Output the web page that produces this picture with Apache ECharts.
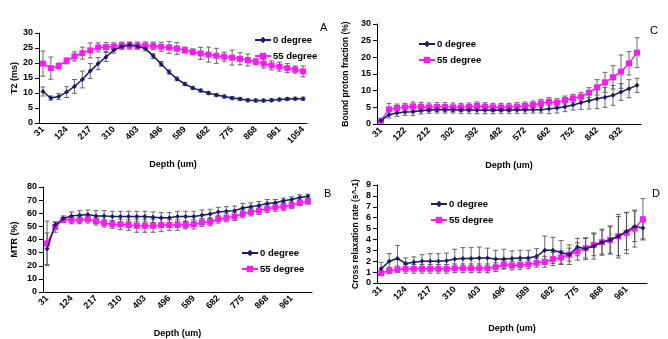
<!DOCTYPE html>
<html>
<head>
<meta charset="utf-8">
<script src="https://cdn.jsdelivr.net/npm/echarts@6/dist/echarts.min.js"></script>
<style>
  html, body { margin: 0; padding: 0; background: #fff; }
  #chart { width: 668px; height: 339px; }
</style>
</head>
<body>
<div id="chart"></div>
<script>
// depth categories (um)
var depthA = [31, 62, 93, 124, 155, 186, 217, 248, 279, 310, 341, 372, 403, 434, 465, 496, 527,
  558, 589, 620, 651, 682, 713, 744, 775, 806, 837, 868, 899, 930, 961, 992, 1023, 1054];
var depthB = [31, 62, 93, 124, 155, 186, 217, 248, 279, 310, 341, 372, 403, 434, 465, 496, 527,
  558, 589, 620, 651, 682, 713, 744, 775, 806, 837, 868, 899, 930, 961, 992, 1023];
var depthC = [31, 61, 91, 122, 152, 182, 212, 242, 272, 302, 332, 362, 392, 422, 452, 482, 512,
  542, 572, 602, 632, 662, 692, 722, 752, 782, 812, 842, 872, 902, 932, 962, 992];
var depthD = depthB;

// A: T2 (ms)
var t2Deg0 = [10.5, 8.3, 8.8, 10.3, 12.2, 14.5, 17.3, 19.8, 22, 24.3, 25.5, 26, 25.6, 24.8, 22.3, 19.7, 17,
  14.7, 13, 11.7, 10.8, 10, 9.3, 8.8, 8.3, 8, 7.6, 7.5, 7.5, 7.6, 7.8, 8, 8.1, 8.1];
var t2Deg55 = [19.8, 18.3, 19, 20.7, 22.2, 23.3, 24.2, 25.2, 25.3, 25.5, 25.8, 25.8, 25.8, 25.8, 25.7, 25.4, 25.2,
  24.8, 24.3, 23.7, 23.2, 22.8, 22.4, 22.1, 21.8, 21.4, 21, 20.4, 19.8, 19.2, 18.8, 18.3, 17.8, 17.2];
var t2Err0 = [1.5, 0.7, 1, 1.8, 2.3, 2.8, 2.5, 2, 1.5, 1, 0.8, 0.8, 0.8, 0.8, 0.8, 0.8, 0.7,
  0.6, 0.5, 0.5, 0.5, 0.5, 0.5, 0.5, 0.5, 0.5, 0.5, 0.5, 0.5, 0.5, 0.5, 0.5, 0.5, 0.5];
var t2Err55 = [4.2, 3.7, 1, 1, 1.5, 2, 2.5, 1.5, 1.5, 1.2, 1.2, 1.2, 1.2, 1.2, 1.3, 1.5, 2,
  2, 1, 1, 2, 2.5, 2.5, 1.5, 2.5, 2, 2, 1, 1.5, 1.5, 1.5, 1.5, 1.2, 1.8];

// B: MTR (%)
var mtrDeg0 = [33, 51, 56, 58, 58.5, 59, 58, 58, 57.5, 57.5, 57.5, 57.5, 57.5, 57, 56.5, 56.5, 57.5,
  57.5, 57.5, 58.5, 59.5, 61, 61.5, 62, 64, 65, 66, 67.5, 68, 69.5, 70.5, 72, 73];
var mtrDeg55 = [37, 49.5, 55, 55, 55, 55.5, 54, 52.5, 51.5, 51.5, 51, 50.5, 50.5, 50.5, 51, 51, 51,
  51, 51.5, 53, 53.5, 55.5, 56.5, 57.5, 59.5, 61, 62, 63.5, 64.5, 65, 66, 68, 69];
var mtrErr0 = [12, 2, 2, 3, 3.5, 3.5, 4, 4, 4, 4, 4, 4, 4, 4, 4, 4, 4,
  4, 4, 4, 3.5, 3.5, 3.5, 3.5, 3.5, 3, 3, 3, 2.5, 2, 2, 2, 1.5];
var mtrErr55 = [17, 4, 2, 3, 3, 3, 3, 3, 3, 4, 4, 5, 5, 5, 5, 4, 4,
  3, 3.5, 3, 3, 3, 3, 3, 3, 3, 3, 3, 3, 3, 2.5, 2, 2];

// C: bound proton fraction (%)
var bpfDeg0 = [1, 2.8, 3.3, 3.6, 3.7, 4, 4.2, 4.3, 4.3, 4.3, 4.2, 4.2, 4.1, 4.1, 4.1, 4.2, 4.2,
  4.2, 4.2, 4.3, 4.3, 4.6, 4.8, 5.2, 5.7, 6.4, 7, 7.6, 8, 8.6, 9.6, 10.6, 11.6];
var bpfDeg55 = [1, 4.4, 4.8, 5, 5.3, 5.2, 5, 5.1, 5.1, 5, 5, 5.1, 5.4, 5.2, 5, 5, 5,
  5.2, 5.4, 5.7, 6.2, 6.7, 6.4, 7.2, 7.7, 8.2, 9.4, 11, 12.5, 14, 15.7, 18.2, 21.4];
var bpfErr0 = [0.3, 1, 1, 1, 1.2, 1, 1, 1, 1, 1, 1, 1, 1, 1, 1, 1, 1,
  1, 1, 1, 1, 1.5, 1.5, 1.5, 1.5, 2, 2.5, 3, 3, 3, 2.5, 2.7, 2.1];
var bpfErr55 = [0.3, 1.8, 1.2, 1.2, 1.3, 1.3, 1.3, 1.3, 1.3, 1.3, 1.2, 1.2, 1.2, 1.2, 1.2, 1.2, 1.2,
  1.2, 1.2, 1.2, 1.2, 1.2, 1.2, 1.2, 1.2, 1.3, 1.5, 2.3, 3, 3.5, 5, 3.5, 4.5];

// D: cross relaxation rate (s^-1)
var crrDeg0 = [1.3, 2, 2.25, 1.8, 1.9, 2, 2, 2, 2.05, 2.2, 2.25, 2.25, 2.3, 2.3, 2.2, 2.2, 2.25,
  2.3, 2.3, 2.45, 3, 3, 2.8, 2.6, 3.3, 3.15, 3.4, 3.75, 3.95, 4.3, 4.75, 5.2, 5.05];
var crrDeg55 = [0.9, 1.15, 1.25, 1.3, 1.3, 1.3, 1.3, 1.3, 1.3, 1.35, 1.35, 1.35, 1.35, 1.35, 1.45, 1.7, 1.6,
  1.65, 1.7, 1.85, 1.95, 2.2, 2.35, 2.6, 2.9, 3.2, 3.5, 3.75, 3.95, 4.3, 4.6, 5, 5.85];
var crrErr0 = [0.6, 0.7, 1.2, 0.5, 0.5, 0.6, 0.7, 0.7, 0.7, 0.9, 1, 1, 1, 0.9, 0.8, 0.9, 0.7,
  0.7, 0.7, 0.7, 1.3, 1.2, 1.1, 0.9, 0.8, 1, 1.2, 1.2, 1.3, 2, 1.7, 1.4, 1];
var crrErr55 = [0.2, 0.3, 0.3, 0.4, 0.4, 0.4, 0.4, 0.4, 0.4, 0.4, 0.4, 0.4, 0.4, 0.4, 0.4, 0.4, 0.4,
  0.4, 0.4, 0.4, 0.5, 0.6, 0.6, 0.6, 0.8, 0.9, 1, 1.1, 1.2, 1.8, 1.9, 1.7, 1.9];

var NAVY = '#1b1b6b';
var PINK = '#ff19ff';
var FONT = 'Liberation Sans, Arial, sans-serif';

var chart = echarts.init(document.getElementById('chart'));

var panels = [
  { grid: { left: 39, top: 33, width: 268, height: 90 }, cats: depthA, d0: t2Deg0, d55: t2Deg55,
    e0: t2Err0, e55: t2Err55, max: 30, step: 5, yname: 'T2 (ms)', ygap: 20, xgap: 37,
    legend: { left: 249, top: 30 }, letter: 'A', lx: 320, ly: 22 },
  { grid: { left: 43, top: 187, width: 269, height: 105 }, cats: depthB, d0: mtrDeg0, d55: mtrDeg55,
    e0: mtrErr0, e55: mtrErr55, max: 80, step: 10, yname: 'MTR (%)', ygap: 24, xgap: 37,
    legend: { left: 236, top: 243 }, letter: 'B', lx: 324, ly: 188 },
  { grid: { left: 377, top: 24, width: 264, height: 100 }, cats: depthC, d0: bpfDeg0, d55: bpfDeg55,
    e0: bpfErr0, e55: bpfErr55, max: 30, step: 5, yname: 'Bound proton fraction (%)', ygap: 27, xgap: 37,
    legend: { left: 413, top: 34 }, letter: 'C', lx: 650, ly: 25 },
  { grid: { left: 377, top: 185, width: 270, height: 98 }, cats: depthD, d0: crrDeg0, d55: crrDeg55,
    e0: crrErr0, e55: crrErr55, max: 9, step: 1, yname: 'Cross relaxation rate (s^-1)', ygap: 17, xgap: 41,
    legend: { left: 425, top: 194 }, letter: 'D', lx: 652, ly: 188 }
];

function errorBar(params, api) {
  var x = api.value(0);
  var lo = api.coord([x, api.value(1)]);
  var hi = api.coord([x, api.value(2)]);
  var w = 2.5;
  var st = { stroke: '#444', lineWidth: 0.8 };
  return {
    type: 'group',
    children: [
      { type: 'line', shape: { x1: lo[0], y1: lo[1], x2: hi[0], y2: hi[1] }, style: st },
      { type: 'line', shape: { x1: lo[0] - w, y1: lo[1], x2: lo[0] + w, y2: lo[1] }, style: st },
      { type: 'line', shape: { x1: hi[0] - w, y1: hi[1], x2: hi[0] + w, y2: hi[1] }, style: st }
    ]
  };
}

function bars(vals, errs) {
  return vals.map(function (v, i) { return [i, v - errs[i], v + errs[i]]; });
}

var grids = [], xAxes = [], yAxes = [], series = [], legends = [], texts = [];

panels.forEach(function (p, i) {
  grids.push(p.grid);
  xAxes.push({
    type: 'category', gridIndex: i, data: p.cats, boundaryGap: true,
    name: 'Depth (um)', nameLocation: 'middle', nameGap: p.xgap,
    nameTextStyle: { fontFamily: FONT, fontWeight: 'bold', fontSize: 9, color: '#000' },
    axisLine: { lineStyle: { color: '#000', width: 1 } },
    axisTick: { interval: 0, length: 4, lineStyle: { color: '#000' } },
    axisLabel: { interval: 2, rotate: 45, margin: 5, fontFamily: FONT, fontWeight: 'bold',
      fontSize: 9, color: '#000' },
    splitLine: { show: false }
  });
  yAxes.push({
    type: 'value', gridIndex: i, min: 0, max: p.max, interval: p.step,
    name: p.yname, nameLocation: 'middle', nameGap: p.ygap,
    nameTextStyle: { fontFamily: FONT, fontWeight: 'bold', fontSize: i >= 2 ? 8.5 : 9, color: '#000' },
    axisLine: { show: true, lineStyle: { color: '#000', width: 1 } },
    axisTick: { show: true, length: 4, lineStyle: { color: '#000' } },
    axisLabel: { margin: 6, fontFamily: FONT, fontWeight: 'bold', fontSize: 9, color: '#000' },
    splitLine: { show: false }
  });
  series.push({
    type: 'custom', xAxisIndex: i, yAxisIndex: i, renderItem: errorBar,
    data: bars(p.d55, p.e55), encode: { x: 0, y: [1, 2] }, z: 1, silent: true
  });
  series.push({
    type: 'custom', xAxisIndex: i, yAxisIndex: i, renderItem: errorBar,
    data: bars(p.d0, p.e0), encode: { x: 0, y: [1, 2] }, z: 1, silent: true
  });
  series.push({
    name: '55 degree', type: 'line', xAxisIndex: i, yAxisIndex: i, data: p.d55,
    symbol: 'rect', symbolSize: 6, showAllSymbol: true, color: PINK,
    lineStyle: { color: PINK, width: 1.5 }, itemStyle: { color: PINK }, z: 3
  });
  series.push({
    name: '0 degree', type: 'line', xAxisIndex: i, yAxisIndex: i, data: p.d0,
    symbol: 'diamond', symbolSize: 5, showAllSymbol: true, color: NAVY,
    lineStyle: { color: NAVY, width: 1.5 }, itemStyle: { color: NAVY }, z: 4
  });
  legends.push({
    left: p.legend.left, top: p.legend.top, orient: 'vertical', itemGap: 6,
    itemWidth: 16, itemHeight: 8, selectedMode: false,
    data: ['0 degree', '55 degree'],
    textStyle: { fontFamily: FONT, fontWeight: 'bold', fontSize: 9.5, color: '#000', padding: [0, 0, 0, -3] }
  });
  texts.push({
    type: 'text', left: p.lx, top: p.ly,
    style: { text: p.letter, fontFamily: FONT, fontSize: 11, fill: '#000' }
  });
});

chart.setOption({
  animation: false,
  backgroundColor: '#fff',
  grid: grids,
  xAxis: xAxes,
  yAxis: yAxes,
  legend: legends,
  graphic: texts,
  series: series
});
</script>
</body>
</html>
